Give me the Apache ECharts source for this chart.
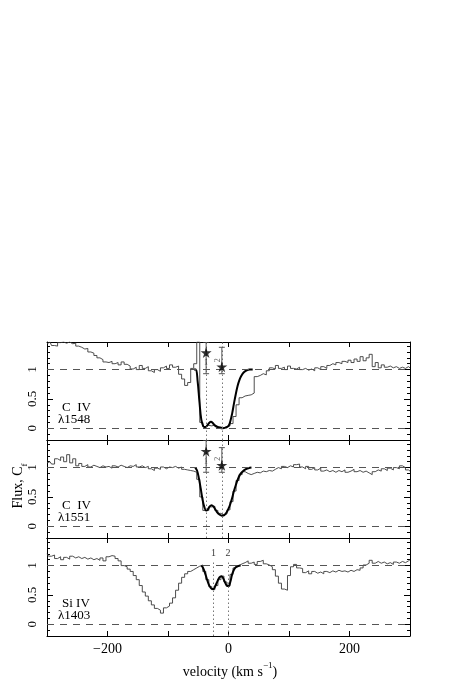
<!DOCTYPE html>
<html>
<head>
<meta charset="utf-8">
<script src="https://cdn.jsdelivr.net/npm/echarts@6/dist/echarts.min.js"></script>
<style>
  html, body { margin: 0; padding: 0; background: #fff; }
  #chart { width: 457px; height: 684px; }
</style>
</head>
<body>
<div id="chart"></div>
<script>
// velocity grid of the spectra (km/s)
const vel = [
  -300, -295, -290, -285, -280, -275, -270, -265, -260, -255, -250, -245, -240, -235, -230, -225, -220, -215, -210, -205,
  -200, -195, -190, -185, -180, -175, -170, -165, -160, -155, -150, -145, -140, -135, -130, -125, -120, -115, -110, -105,
  -100, -95, -90, -85, -80, -75, -70, -65, -60, -55, -50, -45, -40, -35, -30, -25, -20, -15, -10, -5,
  0, 5, 10, 15, 20, 25, 30, 35, 40, 45, 50, 55, 60, 65, 70, 75, 80, 85, 90, 95,
  100, 105, 110, 115, 120, 125, 130, 135, 140, 145, 150, 155, 160, 165, 170, 175, 180, 185, 190, 195,
  200, 205, 210, 215, 220, 225, 230, 235, 240, 245, 250, 255, 260, 265, 270, 275, 280, 285, 290, 295,
  300
]

// C IV 1548 normalised flux
const fluxC1548 = [
  1.44, 1.47, 1.41, 1.40, 1.46, 1.47, 1.45, 1.47, 1.44, 1.45, 1.40, 1.38, 1.35, 1.36, 1.30, 1.28, 1.24, 1.20, 1.17, 1.13,
  1.12, 1.14, 1.10, 1.12, 1.08, 1.13, 1.09, 1.06, 1.01, 1.04, 1.00, 1.07, 1.02, 1.05, 0.98, 0.95, 1.00, 0.97, 1.03, 1.06,
  1.02, 1.08, 1.04, 1.06, 0.92, 0.84, 0.73, 0.78, 1.02, 1.10, 1.47, 0.10, 0.03, 0.05, 0.04, 0.06, 0.03, 0.02, 0.01, 0.03,
  0.04, 0.08, 0.20, 0.40, 0.52, 0.55, 0.56, 0.57, 0.60, 0.88, 0.90, 0.93, 0.91, 0.98, 1.03, 1.01, 1.07, 1.02, 1.04, 1.00,
  1.06, 1.02, 1.01, 1.04, 1.00, 1.02, 0.99, 1.01, 0.98, 1.03, 1.00, 1.05, 1.02, 1.07, 1.10, 1.08, 1.12, 1.10, 1.14, 1.12,
  1.16, 1.12, 1.18, 1.14, 1.22, 1.15, 1.20, 1.26, 1.05, 1.12, 1.03, 1.08, 1.04, 1.06, 1.03, 1.05, 1.02, 1.04, 1.02, 1.05,
  1.03
]

// C IV 1551 normalised flux
const fluxC1551 = [
  1.08, 1.10, 1.06, 1.15, 1.12, 1.18, 1.10, 1.22, 1.08, 1.15, 1.03, 1.07, 1.02, 1.05, 1.01, 1.04, 1.02, 1.00, 1.03, 1.01,
  1.02, 0.99, 1.03, 1.01, 1.04, 1.02, 1.00, 1.03, 1.02, 1.05, 1.01, 1.03, 1.00, 1.02, 0.98, 0.95, 0.99, 0.97, 1.01, 0.98,
  1.01, 1.00, 1.02, 0.99, 1.01, 0.97, 0.96, 0.95, 0.94, 0.92, 0.80, 0.50, 0.27, 0.27, 0.33, 0.34, 0.27, 0.22, 0.19, 0.21,
  0.28, 0.42, 0.60, 0.78, 0.88, 0.93, 0.90, 0.88, 0.90, 0.92, 0.91, 0.94, 0.93, 0.95, 0.94, 0.97, 1.00, 0.98, 1.02, 1.00,
  1.03, 1.01, 1.05, 1.06, 1.01, 0.98, 1.02, 0.97, 1.00, 0.96, 0.99, 0.94, 0.96, 0.93, 0.95, 0.92, 0.95, 0.93, 0.96, 0.92,
  0.94, 0.97, 0.93, 0.95, 0.92, 0.94, 0.91, 0.88, 0.93, 0.96, 0.94, 0.98, 0.95, 0.99, 0.96, 1.00, 0.98, 1.03, 1.00, 0.96,
  0.94
]

// Si IV 1403 normalised flux
const fluxSi1403 = [
  1.20, 1.16, 1.18, 1.12, 1.15, 1.10, 1.14, 1.11, 1.16, 1.13, 1.15, 1.12, 1.14, 1.11, 1.13, 1.10, 1.12, 1.09, 1.13, 1.08,
  1.15, 1.17, 1.16, 1.12, 1.08, 1.00, 0.98, 0.94, 0.90, 0.83, 0.76, 0.66, 0.55, 0.48, 0.40, 0.33, 0.27, 0.24, 0.19, 0.28,
  0.31, 0.36, 0.45, 0.58, 0.70, 0.80, 0.86, 0.90, 0.93, 0.96, 0.99, 1.01, 0.90, 0.76, 0.64, 0.59, 0.66, 0.76, 0.82, 0.72,
  0.65, 0.85, 0.96, 1.00, 1.03, 1.05, 1.08, 1.04, 1.06, 1.02, 1.07, 1.09, 1.03, 1.01, 0.98, 0.93, 0.82, 0.70, 0.60, 0.58,
  0.83, 0.98, 1.02, 0.96, 0.95, 0.88, 0.91, 0.86, 0.90, 0.87, 0.89, 0.86, 0.90, 0.88, 0.91, 0.89, 0.92, 0.90, 0.91, 0.89,
  0.92, 0.90, 0.93, 0.92, 0.96, 1.01, 1.04, 1.09, 1.04, 1.07, 1.04, 1.06, 1.03, 1.05, 1.02, 1.06, 1.04, 1.07, 1.05, 1.08,
  1.10
]

// model fits
const modelVelC1548 = [-57, -54, -51, -48, -45, -42, -40, -38, -35, -32, -29, -26, -23, -20, -15, -10, -5, 0, 3, 6, 9, 12, 15, 18, 21, 25, 30, 35, 40]
const modelC1548 = [1.0, 1.0, 0.8, 0.45, 0.15, 0.04, 0.02, 0.02, 0.05, 0.09, 0.11, 0.09, 0.05, 0.03, 0.01, 0.0, 0.01, 0.04, 0.12, 0.25, 0.42, 0.58, 0.72, 0.82, 0.89, 0.95, 0.985, 1.0, 1.0]

const modelVelC1551 = [-55, -52, -49, -46, -43, -40, -37, -34, -31, -28, -25, -22, -19, -15, -11, -7, -3, 0, 3, 6, 9, 12, 15, 19, 23, 28, 33, 38]
const modelC1551 = [1.0, 0.95, 0.82, 0.65, 0.46, 0.33, 0.27, 0.29, 0.34, 0.36, 0.34, 0.29, 0.24, 0.20, 0.18, 0.19, 0.24, 0.30, 0.38, 0.48, 0.60, 0.70, 0.79, 0.88, 0.93, 0.97, 0.99, 1.0]

const modelVelSi1403 = [-45, -42, -39, -36, -33, -30, -27, -24, -21, -18, -15, -12, -9, -6, -3, 0, 3, 6, 9, 12, 16, 20]
const modelSi1403 = [1.0, 0.96, 0.88, 0.78, 0.69, 0.63, 0.60, 0.61, 0.67, 0.74, 0.80, 0.82, 0.79, 0.72, 0.66, 0.65, 0.72, 0.85, 0.93, 0.97, 0.99, 1.0]

// component positions and partial coverage points: [velocity, Cf, lower, upper]
const compVelCIV = [-37, -11]
const compVelSiIV = [-25, -1]
const covC1548 = [[-37, 1.29, 0.93, 1.47], [-11, 1.05, 0.93, 1.38]]
const covC1551 = [[-37, 1.28, 0.92, 1.47], [-11, 1.04, 0.92, 1.34]]
const compLabels = ['1', '2']

const panelNames = [['C  IV', 'λ1548'], ['C  IV', 'λ1551'], ['Si IV', 'λ1403']]
const xTickLabels = [-200, 0, 200]
const yTickLabels = [0, 0.5, 1]
const yMinorTicks = [-0.1, 0.1, 0.2, 0.3, 0.4, 0.6, 0.7, 0.8, 0.9, 1.1, 1.2, 1.3, 1.4]

const FONT = 'Liberation Serif'
const STAR = 'path://M50,0 L61,35 L98,35 L68,57 L79,91 L50,70 L21,91 L32,57 L2,35 L39,35 Z'

const chart = echarts.init(document.getElementById('chart'), null, { renderer: 'canvas' })

const panelTop = [342, 440, 538]
const panelHeight = 98

const grids = panelTop.map(t => ({ left: 47, width: 363, top: t, height: panelHeight }))

const xAxes = []
const yAxes = []
panelTop.forEach((t, i) => {
  ['bottom', 'top'].forEach(pos => {
    xAxes.push({
      type: 'value', gridIndex: i, position: pos, min: -300, max: 300, interval: 100,
      axisLine: { show: true, onZero: false, lineStyle: { color: '#000', width: 1 } },
      axisTick: { show: true, inside: true, length: 5, lineStyle: { color: '#000' } },
      axisLabel: {
        show: pos === 'bottom' && i === 2,
        margin: 6,
        fontFamily: FONT, fontSize: 14, color: '#000',
        formatter: v => xTickLabels.includes(v) ? String(v).replace('-', '−') : ''
      },
      splitLine: { show: false }
    })
  })
  ;['left', 'right'].forEach(pos => {
    yAxes.push({
      type: 'value', gridIndex: i, position: pos, min: -0.2, max: 1.47,
      axisLine: { show: true, onZero: false, lineStyle: { color: '#000', width: 1 } },
      axisTick: { show: true, inside: true, length: 6, customValues: yTickLabels, lineStyle: { color: '#000' } },
      axisLabel: {
        show: pos === 'left', customValues: yTickLabels, rotate: 90, margin: 8,
        fontFamily: FONT, fontSize: 13, color: '#000',
        formatter: v => String(v)
      },
      splitLine: { show: false }
    })
    yAxes.push({
      type: 'value', gridIndex: i, position: pos, min: -0.2, max: 1.47,
      axisLine: { show: false, onZero: false },
      axisTick: { show: true, inside: true, length: 3, customValues: yMinorTicks, lineStyle: { color: '#000' } },
      axisLabel: { show: false },
      splitLine: { show: false }
    })
  })
})

const spectra = [fluxC1548, fluxC1551, fluxSi1403]
const models = [[modelVelC1548, modelC1548], [modelVelC1551, modelC1551], [modelVelSi1403, modelSi1403]]
const series = []

spectra.forEach((flux, i) => {
  const xi = 2 * i
  const yi = 4 * i
  const compVel = i < 2 ? compVelCIV : compVelSiIV
  series.push({
    type: 'line', xAxisIndex: xi, yAxisIndex: yi, step: 'middle', symbol: 'none',
    data: vel.map((v, k) => [v, flux[k]]),
    lineStyle: { color: '#3a3a3a', width: 0.9 },
    z: 2,
    markLine: {
      silent: true, symbol: 'none', label: { show: false },
      lineStyle: { color: '#555', type: [7, 6], width: 1 },
      data: [{ yAxis: 0 }, { yAxis: 1 }]
    }
  })
  series.push({
    type: 'line', xAxisIndex: xi, yAxisIndex: yi, smooth: 0.4, symbol: 'none',
    data: models[i][0].map((v, k) => [v, models[i][1][k]]),
    lineStyle: { color: '#000', width: 2 },
    z: 4,
    markLine: {
      silent: true, symbol: 'none', label: { show: false },
      lineStyle: { color: '#777', type: [1.5, 2.5], width: 1 },
      data: i < 2
        ? compVel.map(v => ({ xAxis: v }))
        : compVel.map(v => [{ coord: [v, -0.2] }, { coord: [v, 1.08] }])
    }
  })
})

// partial coverage estimates (stars + error bars) in the C IV panels
;[covC1548, covC1551].forEach((cov, i) => {
  series.push({
    type: 'custom', xAxisIndex: 2 * i, yAxisIndex: 4 * i, clip: true, z: 5,
    data: cov.map(c => [c[0], c[2], c[3]]),
    renderItem: (params, api) => {
      const lo = api.coord([api.value(0), api.value(1)])
      const hi = api.coord([api.value(0), api.value(2)])
      const st = { stroke: '#555', lineWidth: 1 }
      return {
        type: 'group',
        children: [
          { type: 'line', shape: { x1: lo[0], y1: lo[1], x2: hi[0], y2: hi[1] }, style: st },
          { type: 'line', shape: { x1: lo[0] - 3, y1: lo[1], x2: lo[0] + 3, y2: lo[1] }, style: st },
          { type: 'line', shape: { x1: hi[0] - 3, y1: hi[1], x2: hi[0] + 3, y2: hi[1] }, style: st }
        ]
      }
    }
  })
  series.push({
    type: 'scatter', xAxisIndex: 2 * i, yAxisIndex: 4 * i, symbol: STAR, symbolSize: 11, z: 6,
    itemStyle: { color: '#000' },
    data: cov.map((c, k) => ({
      value: [c[0], c[1]],
      label: {
        show: true, formatter: compLabels[k], fontFamily: FONT, fontSize: 8, color: '#333',
        position: k === 0 ? 'bottom' : 'top', distance: 1, rotate: k === 0 ? 0 : 90
      }
    }))
  })
})

// component labels in the Si IV panel
series.push({
  type: 'scatter', xAxisIndex: 4, yAxisIndex: 8, symbol: 'circle', symbolSize: 1, z: 6,
  itemStyle: { color: 'rgba(0,0,0,0)' },
  data: compVelSiIV.map((v, k) => ({
    value: [v, 1.2],
    label: { show: true, formatter: compLabels[k], position: 'inside', fontFamily: FONT, fontSize: 10, color: '#000' }
  }))
})

const labelX = [62, 58]
const graphic = []
panelNames.forEach((names, i) => {
  const base = panelTop[i] + 66
  graphic.push({
    type: 'text', x: labelX[0], y: base, style: { text: names[0], font: '13px "Liberation Serif"', fill: '#000', verticalAlign: 'middle' }
  })
  graphic.push({
    type: 'text', x: labelX[1], y: base + 11.5, style: { text: names[1], font: '13px "Liberation Serif"', fill: '#000', verticalAlign: 'middle' }
  })
})
graphic.push({
  type: 'text', x: 20, y: 486, rotation: Math.PI / 2,
  style: {
    text: '{a|Flux, C}{b|f}', align: 'center', verticalAlign: 'middle',
    rich: {
      a: { fontFamily: FONT, fontSize: 14, fill: '#000', color: '#000', lineHeight: 18, verticalAlign: 'top' },
      b: { fontFamily: FONT, fontSize: 9, fill: '#000', color: '#000', lineHeight: 18, verticalAlign: 'bottom' }
    }
  }
})
graphic.push({
  type: 'text', x: 230, y: 670,
  style: {
    text: '{a|velocity (km s}{b|−1}{a|)}', align: 'center', verticalAlign: 'middle',
    rich: {
      a: { fontFamily: FONT, fontSize: 14, fill: '#000', color: '#000', lineHeight: 18, verticalAlign: 'bottom' },
      b: { fontFamily: FONT, fontSize: 9, fill: '#000', color: '#000', lineHeight: 18, verticalAlign: 'top' }
    }
  }
})

chart.setOption({
  animation: false,
  backgroundColor: '#fff',
  grid: grids,
  xAxis: xAxes,
  yAxis: yAxes,
  series: series,
  graphic: graphic
})
</script>
</body>
</html>
